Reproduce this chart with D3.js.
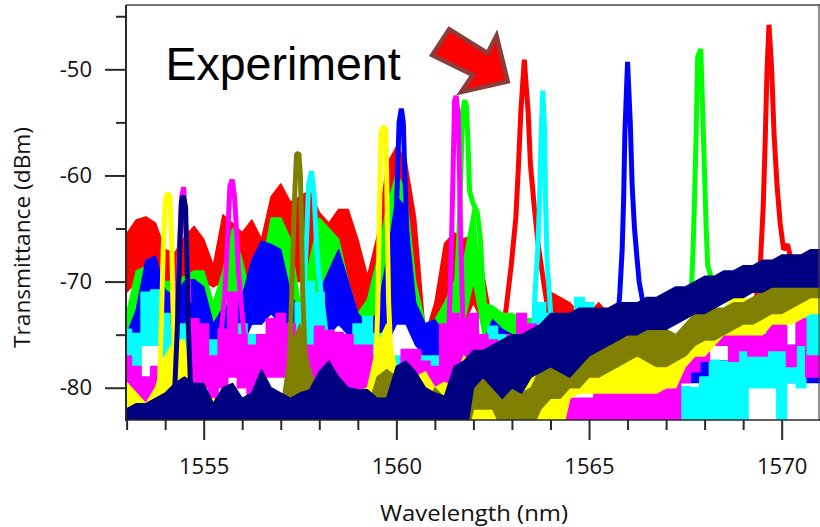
<!DOCTYPE html>
<html><head><meta charset="utf-8">
<script src="https://cdn.jsdelivr.net/npm/d3@7"></script>
<style>body{margin:0;background:#fff}</style>
</head><body>
<svg id="c" width="820" height="527"></svg>
<script>
// ---- data ----
const wavelengths = [1553,1553.25,1553.5,1553.75,1554,1554.25,1554.5,1554.75,1555,1555.25,
 1555.5,1555.75,1556,1556.25,1556.5,1556.75,1557,1557.25,1557.5,1557.75,
 1558,1558.25,1558.5,1558.75,1559,1559.25,1559.5,1559.75,1560,1560.25,
 1560.5,1560.75,1561,1561.25,1561.5,1561.75,1562,1562.25,1562.5,1562.75,
 1563,1563.25,1563.5,1563.75,1564,1564.25,1564.5,1564.75,1565,1565.25,
 1565.5,1565.75,1566,1566.25,1566.5,1566.75,1567,1567.25,1567.5,1567.75,
 1568,1568.25,1568.5,1568.75,1569,1569.25,1569.5,1569.75,1570,1570.25,
 1570.5,1570.75,1571];

const redHi = [-65.5,-64.2,-63.9,-64.5,-67,-67.3,-65.8,-64.8,-66,-68.5,
 -63.7,-64.5,-65.4,-64.2,-66,-62,-60.8,-62.5,-62,-61.4,
 -63.5,-64.5,-63.2,-63.2,-66,-69.5,-65.8,-59,-57.3,-58.5,
 -64,-75,-72,-66.4,-65.4,-66,-65.5,-69,-74,-75,
 -76,-76,-76,-75,-71,-71.5,-72,-73,-73,-72,
 -73,-72.5,-73,-77.5,-77.5,-77.5,-77.5,-77.5,-77.5,-77.5,
 -77.5,-77.5,-77.5,-77.5,-77.5,-77.5,-77.5,-77.5,-77.5,-77.5,
 -77.5,-77.5,-77.5];
const redLo = [-71,-70,-70,-70.5,-71,-71,-70,-70,-70,-70.5,
 -70,-70,-72,-70,-72.7,-71,-70,-70,-70,-70,
 -71,-72,-72,-71,-73.5,-73,-72,-72,-70,-73,
 -75,-78,-78,-74,-74,-74,-72,-74,-78,-79,
 -80,-80,-80,-79,-77,-77,-77,-78,-78,-78,
 -78,-78,-79,-79,-79,-79,-79,-79,-79,-79,
 -79,-79,-79,-79,-79,-79,-79,-79,-79,-79,
 -79,-79,-79];

const greenHi = [-73,-69,-68.6,-69.5,-70,-70,-69.5,-69,-69,-72,
 -69,-65,-68,-72,-69,-64,-64,-66,-72,-68,
 -64,-65,-66,-70,-73,-71.7,-68,-63,-59.8,-61.4,
 -70,-74,-73.6,-72,-70,-68,-63,-72,-72.3,-73,
 -73,-73.5,-73.5,-73.5,-73.5,-73,-73.5,-74,-74,-72.7,
 -74,-74,-74,-77.5,-77.5,-77.5,-77.5,-77.5,-77.5,-77.5,
 -77.5,-77.5,-77.5,-77.5,-77.5,-77.5,-77.5,-77.5,-77.5,-77.5,
 -77.5,-77.5,-77.5];
const greenLo = [-76,-74,-73,-73,-74,-74,-73,-72,-73,-75,
 -74,-73,-73,-74,-74,-72,-72,-73,-75,-74,
 -70,-72,-73,-74,-76,-75,-75,-73,-72,-73,
 -75,-77,-77,-77,-76,-74,-70,-75,-76,-77,
 -77,-78,-78,-78,-78,-78,-78,-78,-78,-78,
 -79,-79,-79,-79,-79,-79,-79,-79,-79,-79,
 -79,-79,-79,-79,-79,-79,-79,-79,-79,-79,
 -79,-79,-79];

const blueHi = [-75,-72.7,-68,-67.6,-70.8,-71.4,-70,-69.8,-70.5,-74,
 -72.5,-72,-71.4,-68,-66.2,-66.5,-67,-71,-73,-74,
 -71,-69,-67,-70,-73,-74,-73,-68,-62,-63,
 -72,-74,-73.6,-75,-75.5,-76,-76,-75.8,-73.6,-74.5,
 -75,-75,-75,-75,-75,-74,-75,-75,-75,-75,
 -75,-75,-75,-77.5,-77.5,-77.5,-77.5,-77.5,-77.5,-77.5,
 -77.5,-77.5,-77.5,-77.5,-77.5,-77.5,-77.5,-77.5,-77.5,-77.5,
 -77.5,-77.5,-77.5];
const blueLo = [-78,-76,-74,-74,-75,-75,-74,-74,-75,-77,
 -76,-76,-76,-74,-74,-73,-74,-76,-77,-78,
 -76,-75,-74,-75,-76,-78,-77,-76,-74,-74,
 -76,-77,-77,-78,-78,-79,-79,-79,-78,-78,
 -79,-79,-79,-79,-79,-79,-79,-79,-79,-79,
 -79.5,-79.5,-79.5,-79.5,-79.5,-79.5,-79.5,-79.5,-79.5,-79.5,
 -79.5,-79.5,-79.5,-79.5,-79.5,-79.5,-79.5,-79.5,-79.5,-79.5,
 -79.5,-79.5,-79.5];

const cyanHi = [-74.5,-74.9,-71,-70.8,-73,-74,-74,-74.2,-74.5,-75.5,
 -76.5,-73,-74,-75,-75,-75,-75,-74,-72,-70,
 -71,-74.6,-75.5,-76,-74,-73.3,-74.9,-77,-77,-77,
 -77,-77,-77,-76.4,-76,-76.5,-76,-75.5,-74.2,-75,
 -75.5,-76,-74,-72,-73,-74,-73.5,-71.5,-72,-73,
 -74,-74,-73,-72.5,-76,-78,-79,-80,-79.9,-80,
 -79,-77.4,-77.5,-76,-73.6,-74,-74,-75,-75,-76,
 -73,-72.3,-73];
const cyanLo = [-78,-78,-76,-76,-77,-77,-77,-77,-77,-78,
 -79,-78,-78,-78,-78,-78,-78,-78,-77,-76,
 -75,-77,-78,-78,-77,-76,-77,-79,-79,-79,
 -79,-79,-79,-79,-79,-79,-79,-79,-78,-79,
 -79,-79,-78,-77,-78,-79,-79,-78,-78,-79,
 -79,-79,-79,-79,-80,-82,-84,-85,-85,-85,
 -85,-85,-85,-85,-85,-80,-80,-80,-83,-79.5,
 -80,-78,-78];

const magentaHi = [-77,-78,-79,-78,-79.5,-79.5,-78,-73.5,-74,-77,
 -74.5,-71,-75,-76,-75,-73.5,-73,-74,-75,-76,
 -74.2,-74.6,-74.8,-75,-76,-76,-77,-78,-78,-76.4,
 -76.4,-77.5,-78,-74,-73,-73.5,-73,-75,-75.5,-76,
 -75,-73,-74,-76,-78,-79,-81,-81,-81,-80.5,
 -80,-80,-79.5,-78,-78,-78,-78.5,-77,-77,-76,
 -75,-73,-73,-75,-74,-75,-75,-74,-74,-76,
 -73.5,-77,-77];
const magentaLo = [-81,-81,-82,-82,-82,-82,-82,-80,-80,-81,
 -80,-79,-80,-81,-80,-79,-79,-80,-80,-81,
 -80,-80,-80,-80,-81,-81,-81,-82,-82,-81,
 -81,-82,-82,-80,-80,-80,-80,-80,-80,-80,
 -80,-79,-80,-81,-82,-83,-85,-85,-85,-85,
 -85,-85,-85,-85,-85,-85,-85,-83,-79.5,-78.5,
 -77.5,-76,-76,-77.5,-76.5,-77,-77,-76.5,-76.5,-78,
 -76,-79,-79];

const yellowHi = [-79.5,-80.5,-81.5,-80,-77,-75.5,-75.5,-81,-81.5,-81,
 -82,-82,-82,-82,-82,-82,-81.5,-80.5,-81,-81.5,
 -82,-82,-81.5,-80.5,-80.5,-80,-76,-74,-78,-80,
 -79,-78.5,-80,-79.5,-80,-77,-78,-79,-79.5,-79.5,
 -79.3,-79.5,-78,-76,-78.6,-78.6,-79,-79,-78,-78,
 -78.5,-77,-77.5,-76.5,-76,-75.5,-76,-76.5,-75,-75,
 -74,-73.5,-72.5,-71.5,-71.5,-72,-71.5,-71,-70.5,-70,
 -70,-70,-69.5];
const yellowLo = [-85,-85,-85,-85,-85,-85,-85,-85,-85,-85,
 -85,-85,-85,-85,-85,-85,-85,-85,-85,-85,
 -85,-85,-85,-85,-85,-85,-85,-85,-85,-85,
 -85,-85,-85,-85,-85,-83,-84,-85,-85,-85,
 -85,-85,-85,-83,-85,-85,-81,-80.5,-80.5,-80.5,
 -80.5,-80.5,-80.5,-80.5,-80.5,-80.5,-80,-80,-78,-77,
 -77,-76,-75,-75,-75,-75,-75,-74,-74,-74,
 -73.5,-73,-73];

const oliveHi = [-83.5,-83.5,-83.5,-83.5,-83.5,-83.5,-82,-82,-82,-81.5,
 -81.5,-81.5,-81.5,-81,-82,-82,-82,-76,-74,-78,
 -81,-82,-80.5,-80.5,-82,-82,-79,-78.3,-79,-82,
 -82,-82,-80,-81,-82,-80.5,-78,-78,-78.5,-80,
 -80,-80.5,-80,-78,-76.5,-77,-77.5,-76,-74.8,-75,
 -75.5,-74,-74,-73.5,-73.5,-74,-74.5,-75,-74,-73,
 -73,-72.5,-72.5,-72,-72,-71.5,-71,-70.5,-70.5,-70,
 -70,-69.5,-69.5];
const oliveLo = [-86,-86,-86,-86,-86,-86,-86,-86,-86,-86,
 -86,-86,-86,-86,-86,-86,-86,-86,-86,-86,
 -86,-86,-86,-86,-86,-86,-86,-86,-86,-86,
 -86,-86,-86,-86,-86,-86,-82,-82,-82,-84,
 -84,-84,-84,-82,-81,-81,-80,-80,-79,-79,
 -78.5,-78,-77.5,-77,-77.5,-78,-78,-77.5,-77,-76,
 -75.5,-75.5,-75,-74.5,-74,-74,-73.5,-73,-73,-72.5,
 -72,-71.5,-71.5];

const navyHi = [-82,-81.5,-81.5,-81,-80.5,-79.6,-79,-79.6,-79.6,-81.5,
 -80,-79.6,-81,-80.5,-78.3,-80,-80.5,-81,-80.5,-80.2,
 -78.5,-77.5,-79,-80,-80.2,-80.2,-81,-81,-78,-77.5,
 -78.5,-80,-80.5,-80.8,-78,-77.5,-76.5,-76.5,-76,-75.5,
 -75,-75,-74.5,-74,-73,-73,-73,-72.5,-72.5,-72.5,
 -72.5,-72,-72,-72,-71.5,-71.5,-71,-70.5,-70.5,-70,
 -69.5,-69.5,-69,-69,-68.5,-68.5,-68,-68,-67.5,-67.5,
 -67.5,-67,-67];
const navyLo = [-86,-86,-86,-86,-86,-86,-86,-86,-86,-86,
 -86,-86,-86,-86,-86,-86,-86,-86,-86,-86,
 -86,-86,-86,-86,-86,-86,-86,-86,-86,-86,
 -86,-86,-86,-86,-86,-86,-80,-79,-80,-81,
 -80,-80.5,-79,-78.5,-78,-78.5,-79,-78,-77,-76.5,
 -76,-75.5,-75,-75,-74.5,-74.5,-74.5,-74,-73.5,-73,
 -73,-72.5,-72,-71.5,-71.5,-71,-71,-70.5,-70.5,-70.5,
 -70.5,-70.5,-70.5];

// resonance peaks: [wavelength, dBm]
const redPeaks = [
 [[1562.7,-76],[1562.85,-72.5],[1562.98,-68.5],[1563.1,-64],[1563.17,-59],[1563.23,-54],[1563.32,-49.1],[1563.42,-54],[1563.48,-59],[1563.58,-63],[1563.68,-66.5],[1563.82,-70],[1563.95,-73]],
 [[1569.3,-73],[1569.45,-68],[1569.52,-63],[1569.57,-57],[1569.62,-50],[1569.67,-45.8],[1569.74,-50],[1569.8,-56],[1569.88,-61],[1569.96,-64.5],[1570.05,-67],[1570.15,-66.5],[1570.25,-68],[1570.35,-71]]
];
const greenPeaks = [
 [[1561.45,-76],[1561.55,-71],[1561.63,-65],[1561.68,-59],[1561.72,-54],[1561.77,-52.9],[1561.82,-53.5],[1561.86,-57],[1561.9,-61.5],[1561.98,-62.5],[1562.1,-63.5],[1562.18,-66],[1562.24,-70],[1562.3,-73]],
 [[1567.58,-73],[1567.66,-70.5],[1567.7,-67],[1567.74,-62],[1567.78,-56],[1567.82,-48.8],[1567.9,-48.1],[1567.95,-54],[1568.0,-60],[1568.04,-65],[1568.08,-68.5],[1568.2,-70],[1568.3,-72]]
];
const bluePeaks = [
 [[1559.85,-74],[1559.93,-70],[1559.98,-66],[1560.03,-60],[1560.07,-55],[1560.13,-53.7],[1560.18,-55],[1560.22,-60],[1560.27,-65],[1560.33,-70],[1560.42,-74]],
 [[1565.72,-75],[1565.8,-71],[1565.86,-67],[1565.9,-62],[1565.93,-56],[1566.0,-49.3],[1566.07,-55],[1566.12,-61],[1566.18,-65],[1566.25,-68],[1566.3,-70],[1566.4,-72]]
];
const cyanPeaks = [
 [[1557.55,-75],[1557.62,-70],[1557.68,-65],[1557.72,-61],[1557.8,-59.6],[1557.87,-62],[1557.92,-66],[1557.98,-69],[1558.08,-72],[1558.18,-75]],
 [[1563.55,-76],[1563.6,-71],[1563.67,-67],[1563.72,-62],[1563.76,-56],[1563.8,-52],[1563.85,-56],[1563.87,-62],[1563.91,-68],[1563.96,-70.5],[1564.02,-74]]
];
const magentaPeaks = [
 [[1554.3,-72],[1554.38,-66],[1554.43,-62],[1554.48,-61.1],[1554.55,-66],[1554.62,-72]],
 [[1555.45,-75],[1555.55,-71],[1555.62,-66],[1555.68,-61],[1555.74,-60.4],[1555.8,-62],[1555.85,-65],[1555.9,-69],[1555.97,-72],[1556.05,-75]],
 [[1561.35,-76],[1561.42,-68],[1561.47,-60],[1561.51,-53],[1561.55,-52.5],[1561.6,-54],[1561.63,-58],[1561.67,-66],[1561.72,-73],[1561.8,-77]]
];
const yellowPeaks = [
 [[1553.85,-80],[1553.9,-74],[1553.95,-67],[1554.0,-62.5],[1554.05,-61.7],[1554.12,-61.9],[1554.17,-66],[1554.2,-72],[1554.25,-78],[1554.3,-81]],
 [[1559.45,-80],[1559.52,-72],[1559.56,-64],[1559.6,-56],[1559.65,-55.4],[1559.72,-55.6],[1559.75,-60],[1559.77,-66],[1559.8,-72],[1559.86,-77],[1559.95,-80]]
];
const olivePeaks = [
 [[1557.2,-80],[1557.26,-74],[1557.31,-68],[1557.36,-62],[1557.41,-58],[1557.47,-57.9],[1557.51,-60],[1557.54,-65],[1557.57,-71],[1557.62,-76],[1557.7,-80]]
];
const navyPeaks = [
 [[1554.25,-80],[1554.32,-74],[1554.38,-67],[1554.42,-62.5],[1554.47,-61.9],[1554.53,-63],[1554.56,-67],[1554.6,-74],[1554.66,-80]]
];

const seriesColors = ["#ff0000","#00ff00","#0000ff","#00ffff","#ff00ff","#ffff00","#808000","#000080"];
const xMajorTicks = [1555,1560,1565,1570];
const xMinorTicks = [1553,1554,1556,1557,1558,1559,1561,1562,1563,1564,1566,1567,1568,1569];
const yMajorTicks = [-50,-60,-70,-80];
const yMinorTicks = [-45,-55,-65,-75];
const annotationText = "Experiment";
const arrowShape = [[1561.37,-46.22],[1562.37,-48.47],[1562.6,-46.83],[1562.89,-51.14],[1561.68,-52.15],[1561.98,-50.53],[1560.93,-48.65]];

// ---- drawing ----
const W = 820, H = 527;
const M = {left:126, top:5, right:819, bottom:420};
const x = d3.scaleLinear().domain([1552.984, 1570.994]).range([126, 820]);
const y = d3.scaleLinear().domain([-83.04, -43.94]).range([420, 5]);

const svg = d3.select("#c");
svg.append("defs").append("clipPath").attr("id","plotclip")
  .append("rect").attr("x",M.left).attr("y",M.top).attr("width",W-M.left).attr("height",M.bottom-M.top);

const series = [
  {hi:redHi, lo:redLo, peaks:redPeaks, curve:d3.curveLinear},
  {hi:greenHi, lo:greenLo, peaks:greenPeaks, curve:d3.curveLinear},
  {hi:blueHi, lo:blueLo, peaks:bluePeaks, curve:d3.curveLinear},
  {hi:cyanHi, lo:cyanLo, peaks:cyanPeaks, curve:d3.curveStep},
  {hi:magentaHi, lo:magentaLo, peaks:magentaPeaks, curve:d3.curveStep},
  {hi:yellowHi, lo:yellowLo, peaks:yellowPeaks, curve:d3.curveLinear},
  {hi:oliveHi, lo:oliveLo, peaks:olivePeaks, curve:d3.curveLinear},
  {hi:navyHi, lo:navyLo, peaks:navyPeaks, curve:d3.curveLinear}
];

const plot = svg.append("g").attr("clip-path","url(#plotclip)");
const line = d3.line().x(d=>x(d[0])).y(d=>y(d[1]));

series.forEach((s,k)=>{
  const col = seriesColors[k];
  const g = plot.append("g");
  const area = d3.area().curve(s.curve)
    .x((d,i)=>x(wavelengths[i]))
    .y0((d,i)=>y(s.lo[i])).y1((d,i)=>y(s.hi[i]));
  g.append("path").datum(s.hi)
    .attr("d", area)
    .attr("fill", col).attr("stroke", col).attr("stroke-width",1.5).attr("stroke-linejoin","round");
  s.peaks.forEach(p=>{
    g.append("path").datum(p).attr("d", line)
      .attr("fill","none").attr("stroke",col).attr("stroke-width",5)
      .attr("stroke-linejoin","bevel");
  });
});

// frame
const axisCol = "#2a2a2a";
svg.append("line").attr("x1",M.left).attr("x2",W).attr("y1",M.top).attr("y2",M.top).attr("stroke","#444").attr("stroke-width",1.5);
svg.append("line").attr("x1",M.right).attr("x2",M.right).attr("y1",M.top).attr("y2",M.bottom).attr("stroke","#444").attr("stroke-width",1.2);
svg.append("line").attr("x1",M.left).attr("x2",W).attr("y1",M.bottom).attr("y2",M.bottom).attr("stroke",axisCol).attr("stroke-width",1.5);
svg.append("line").attr("x1",M.left).attr("x2",M.left).attr("y1",M.top).attr("y2",M.bottom+1).attr("stroke",axisCol).attr("stroke-width",2);

const fontTicks = "'Open Sans', sans-serif";
// y axis
svg.append("g").attr("transform",`translate(${M.left},0)`)
  .call(d3.axisLeft(y).tickValues(yMajorTicks).tickSize(21).tickPadding(13).tickFormat(d=>String(d)));
svg.append("g").attr("transform",`translate(${M.left},0)`)
  .call(d3.axisLeft(y).tickValues(yMinorTicks).tickSize(10).tickFormat(""));
// x axis
svg.append("g").attr("transform",`translate(0,${M.bottom})`)
  .call(d3.axisBottom(x).tickValues(xMajorTicks).tickSize(20).tickPadding(18).tickFormat(d=>String(d)));
svg.append("g").attr("transform",`translate(0,${M.bottom})`)
  .call(d3.axisBottom(x).tickValues(xMinorTicks).tickSize(10).tickFormat(""));

svg.selectAll(".domain").remove();
svg.selectAll(".tick line").attr("stroke",axisCol).attr("stroke-width",2);
svg.selectAll(".tick text").attr("font-family",fontTicks).attr("font-size",22).attr("fill","#111");

// axis titles
svg.append("text").attr("x",474).attr("y",520.5).attr("text-anchor","middle")
  .attr("font-family",fontTicks).attr("font-size",22).attr("fill","#111")
  .attr("textLength",188).attr("lengthAdjust","spacingAndGlyphs")
  .text("Wavelength (nm)");
svg.append("text").attr("transform","translate(29.5,237.5) rotate(-90)").attr("text-anchor","middle")
  .attr("font-family",fontTicks).attr("font-size",22).attr("fill","#111")
  .attr("textLength",221).attr("lengthAdjust","spacingAndGlyphs")
  .text("Transmittance (dBm)");

// annotation
svg.append("text").attr("x",x(1554.008)).attr("y",y(-51.01))
  .attr("font-family","'Liberation Sans', Arial, sans-serif").attr("font-size",46.5).attr("fill","#000")
  .text(annotationText);
svg.append("path").datum(arrowShape)
  .attr("d", d3.line().x(d=>x(d[0])).y(d=>y(d[1])).curve(d3.curveLinearClosed))
  .attr("fill","#ff0000").attr("stroke","#8c3d39").attr("stroke-width",4.5).attr("stroke-linejoin","miter");
</script>
</body></html>
